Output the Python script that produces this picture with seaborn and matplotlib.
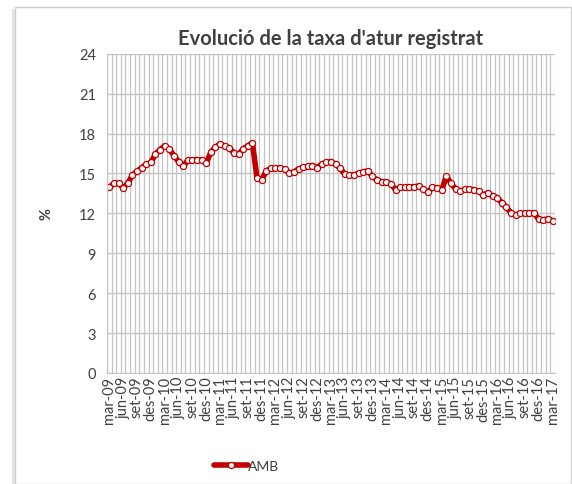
import numpy as np
import pandas as pd
import matplotlib
matplotlib.use("Agg")
import matplotlib.pyplot as plt
from matplotlib.patches import Rectangle
import seaborn as sns

mesos = ['gen', 'feb', 'mar', 'abr', 'mai', 'jun', 'jul', 'ago', 'set', 'oct', 'nov', 'des']

# mar-09 ... mar-17, monthly
taxa = [
    13.95, 14.25, 14.25, 13.93, 14.25, 14.88, 15.15, 15.43, 15.68, 15.83,
    16.45, 16.80, 17.08, 16.83, 16.35, 15.90, 15.55, 15.98, 16.00, 16.05,
    16.00, 15.78, 16.60, 16.98, 17.23, 17.05, 16.93, 16.53, 16.43, 16.85,
    17.08, 17.30, 14.65, 14.50, 15.20, 15.38, 15.40, 15.40, 15.30, 15.05,
    15.10, 15.35, 15.45, 15.53, 15.60, 15.43, 15.70, 15.83, 15.90, 15.70,
    15.38, 14.95, 14.88, 14.90, 15.00, 15.13, 15.18, 14.78, 14.50, 14.38,
    14.38, 14.20, 13.78, 13.95, 13.95, 14.00, 14.00, 14.05, 13.83, 13.60,
    13.95, 13.93, 13.75, 14.80, 14.28, 13.83, 13.65, 13.80, 13.80, 13.78,
    13.65, 13.40, 13.53, 13.30, 13.18, 12.80, 12.45, 12.05, 11.88, 12.00,
    12.00, 12.00, 12.03, 11.55, 11.50, 11.60, 11.45,
]

etiquetes = []
for k in range(len(taxa)):
    m = (2 + k) % 12
    a = 9 + (2 + k) // 12
    etiquetes.append(f"{mesos[m]}-{a:02d}")

df = pd.DataFrame({'idx': np.arange(len(taxa)), 'taxa': taxa, 'mes': etiquetes})

sns.set_style("white")
plt.rcParams['font.family'] = ['Lato', 'DejaVu Sans']

fig = plt.figure(figsize=(5.72, 4.85), dpi=100)
ax = fig.add_axes([0.187, 0.229, 0.783, 0.658])

# chart area border with a soft shadow on the left
fig.patches.append(Rectangle((12 / 572, 0.0), 3 / 572, 1 - 10 / 485, transform=fig.transFigure,
                             facecolor='#e4e4e4', edgecolor='none'))
fig.patches.append(Rectangle((15 / 572, 0.0), 556 / 572, 1 - 8 / 485, transform=fig.transFigure,
                             fill=False, edgecolor='#cfcfcf', linewidth=1.0))

n = len(taxa)
for b in np.arange(-0.5, n, 1.0):
    ax.axvline(b, color='#c4c4c4', lw=0.9, zorder=0)
for yv in range(0, 25, 3):
    ax.axhline(yv, color='#c4c4c4', lw=1.0, zorder=0)

sns.lineplot(data=df, x='idx', y='taxa', ax=ax, color='#c00000', lw=4.0,
             marker='o', markersize=4.4, markerfacecolor='white',
             markeredgecolor='#c00000', markeredgewidth=0.9, label='AMB', legend=False)

ax.set_xlim(-0.5, n - 0.5)
ax.set_ylim(0, 24)
ax.set_yticks(range(0, 25, 3))
ax.set_xticks(df['idx'][::3])
ax.set_xticklabels(df['mes'][::3], rotation=90, fontsize=10.5, color='#404040')
ax.tick_params(axis='y', labelsize=10.5, colors='#404040', length=0, pad=8)
ax.tick_params(axis='x', length=0, pad=2)
ax.set_xlabel('')
ax.set_ylabel('%', fontsize=10.5, fontweight='bold', color='#404040', labelpad=18)
ax.set_title("Evolució de la taxa d'atur registrat", fontsize=14.5, fontweight='bold',
             color='#404040', pad=7)
for s in ax.spines.values():
    s.set_visible(False)
ax.spines['left'].set_visible(True)
ax.spines['left'].set_color('#c4c4c4')
ax.spines['bottom'].set_visible(True)
ax.spines['bottom'].set_color('#c4c4c4')

h, l = ax.get_legend_handles_labels()
fig.legend(h, l, loc='center', bbox_to_anchor=(247 / 572, 1 - 467 / 485), frameon=False,
           fontsize=10, handlelength=2.4, handletextpad=0.05, labelcolor='#404040')

fig.savefig('out.png', dpi=100)
